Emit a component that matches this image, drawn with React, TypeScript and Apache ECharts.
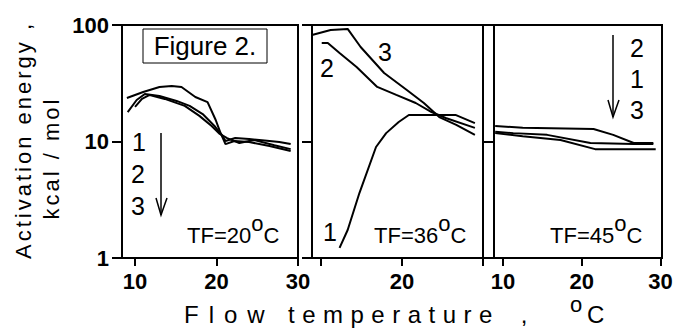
import React, { useEffect, useRef } from 'react';
import * as echarts from 'echarts';

const FONT = '"Liberation Sans", Arial, Helvetica, sans-serif';

// ---- axes ----
const xTickValues = [10, 20, 30];
const xLabelValues = [[10, 20, 30], [20], [10, 20, 30]];
const yTickValues = [1, 10, 100];
const panelXMin = [8.4, 8.9, 8.85];
const panelXMax = [30, 30, 30.2];

// ---- panel 1 : TF = 20 °C ----
const p1c1X = [9.0, 11.0, 13.0, 14.5, 15.7, 17.4, 18.9, 19.9, 20.5, 21.1, 22.3, 24.0, 25.9, 27.7, 29.1];
const p1c1Y = [23.6, 26.6, 29.4, 30.0, 29.4, 24.1, 21.8, 15.3, 11.8, 10.1, 10.7, 10.5, 10.2, 9.9, 9.5];
const p1c2X = [9.1, 10.2, 11.2, 13.0, 15.1, 16.7, 18.3, 19.75, 20.6, 21.1, 22.2, 24.0, 26.5, 29.1];
const p1c2Y = [17.9, 22.7, 25.6, 24.6, 22.3, 20.2, 17.2, 13.6, 11.4, 9.5, 10.1, 9.9, 9.15, 8.3];
const p1c3X = [10.0, 10.85, 11.8, 13.65, 16.1, 17.9, 19.4, 20.4, 21.3, 22.8, 24.6, 27.1, 29.1];
const p1c3Y = [19.8, 23.2, 25.1, 23.2, 20.2, 16.6, 13.6, 11.6, 10.7, 9.7, 10.3, 9.3, 8.6];

// ---- panel 2 : TF = 36 °C ----
const p2c1X = [12.3, 13.3, 14.75, 16.8, 18.05, 19.6, 20.85, 26.6, 29.0];
const p2c1Y = [1.22, 1.74, 3.61, 8.97, 11.8, 14.7, 16.9, 16.9, 14.4];
const p2c2X = [10.1, 10.85, 12.3, 14.4, 16.95, 19.3, 21.7, 23.65, 25.4, 29.0];
const p2c2Y = [70, 70, 57.5, 43.6, 29.4, 25.1, 21.4, 17.9, 15.9, 13.1];
const p2c3X = [8.9, 11.2, 13.3, 14.9, 17.8, 20.6, 22.7, 24.6, 26.7, 29.0];
const p2c3Y = [82, 90.6, 92.5, 64.7, 38.7, 27.7, 21.4, 16.2, 13.9, 11.4];

// ---- panel 3 : TF = 45 °C ----
const p3c1X = [9.0, 12.5, 21.5, 24.0, 26.6, 29.1];
const p3c1Y = [13.6, 13.1, 12.8, 11.4, 9.7, 9.7];
const p3c2X = [9.0, 11.3, 15.6, 21.1, 26.6, 29.1];
const p3c2Y = [12.1, 11.8, 11.4, 9.7, 9.5, 9.5];
const p3c3X = [9.0, 12.5, 17.3, 21.7, 27.4, 29.4];
const p3c3Y = [11.8, 11.1, 10.3, 8.6, 8.6, 8.6];

const panelTitles = ['TF=20', 'TF=36', 'TF=45'];

const panels = [
  [[p1c1X, p1c1Y], [p1c2X, p1c2Y], [p1c3X, p1c3Y]],
  [[p2c1X, p2c1Y], [p2c2X, p2c2Y], [p2c3X, p2c3Y]],
  [[p3c1X, p3c1Y], [p3c2X, p3c2Y], [p3c3X, p3c3Y]],
];

const zip = (xs: number[], ys: number[]) => xs.map((x, i) => [x, ys[i]]);

function label(text: string, x: number, y: number, size: number, extra: any = {}) {
  return {
    type: 'text',
    x,
    y,
    style: {
      text,
      fontSize: size,
      fontFamily: FONT,
      fill: '#000',
      align: 'center',
      verticalAlign: 'middle',
      textAlign: 'center',
      textVerticalAlign: 'middle',
      ...extra,
    },
  };
}

function tfLabel(title: string, x: number) {
  return {
    type: 'text',
    x,
    y: 246,
    style: {
      text: `{n|${title}}{s|o}{n|C}`,
      fontFamily: FONT,
      fontSize: 22,
      fill: '#000',
      align: 'left',
      verticalAlign: 'bottom',
      textAlign: 'left',
      textVerticalAlign: 'bottom',
      lineHeight: 34,
      rich: {
        n: { fontSize: 22, fontFamily: FONT, fill: '#000', verticalAlign: 'bottom' },
        s: { fontSize: 22, fontFamily: FONT, fill: '#000', verticalAlign: 'top' },
      },
    },
  };
}

function arrow(x: number, y1: number, y2: number) {
  return [
    { type: 'line', shape: { x1: x, y1, x2: x, y2 }, style: { stroke: '#000', lineWidth: 1.5 } },
    {
      type: 'polyline',
      shape: { points: [[x - 5, y2 - 17], [x, y2], [x + 6, y2 - 17]] },
      style: { stroke: '#000', lineWidth: 1.5, fill: null },
    },
  ];
}

const LETTER_SPACING: Record<string, string> = {
  'Activation energy ,': '3',
  'kcal / mol': '3',
  Flow: '10',
  temperature: '7.5',
};

export default function App() {
  const ref = useRef<HTMLDivElement>(null);

  useEffect(() => {
    if (!ref.current) return;
    const el = ref.current;
    const chart = echarts.init(el, undefined, { renderer: 'svg' });

    const grids = [
      { left: 122, top: 25, width: 176, height: 233 },
      { left: 312, top: 25, width: 171, height: 233 },
      { left: 494, top: 25, width: 168, height: 233 },
    ].map((g) => ({ ...g, show: true, borderColor: '#000', borderWidth: 2, containLabel: false }));

    const xAxis = [0, 1, 2].map((i) => ({
      type: 'value',
      gridIndex: i,
      min: panelXMin[i],
      max: panelXMax[i],
      axisLine: { show: true, onZero: false, lineStyle: { color: '#000', width: 2 } },
      axisTick: {
        show: true,
        inside: false,
        length: 8,
        customValues: xTickValues,
        lineStyle: { color: '#000', width: 2 },
      },
      axisLabel: {
        show: true,
        customValues: xLabelValues[i],
        color: '#000',
        fontWeight: 'bold',
        fontSize: 22,
        fontFamily: FONT,
        margin: 12,
      },
      splitLine: { show: false },
    }));

    const yAxis = [0, 1, 2].map((i) => ({
      type: 'log',
      logBase: 10,
      gridIndex: i,
      min: 1,
      max: 100,
      axisLine: { show: true, onZero: false, lineStyle: { color: '#000', width: 2 } },
      axisTick: {
        show: true,
        inside: false,
        length: 10,
        customValues: yTickValues,
        lineStyle: { color: '#000', width: 2 },
      },
      minorTick: { show: false },
      axisLabel: {
        show: i === 0,
        customValues: yTickValues,
        color: '#000',
        fontWeight: 'bold',
        fontSize: 22,
        fontFamily: FONT,
        margin: 13,
      },
      splitLine: { show: false },
    }));

    const series: any[] = [];
    panels.forEach((curves, i) => {
      curves.forEach(([xs, ys], j) => {
        series.push({
          type: 'line',
          name: `p${i + 1}c${j + 1}`,
          xAxisIndex: i,
          yAxisIndex: i,
          data: zip(xs, ys),
          symbol: 'none',
          showSymbol: false,
          lineStyle: { color: '#000', width: 2 },
          clip: true,
        });
      });
    });

    const graphic: any[] = [
      // Figure 2 box
      {
        type: 'rect',
        shape: { x: 143, y: 29, width: 124, height: 34 },
        style: { fill: '#fff', stroke: '#000', lineWidth: 1 },
      },
      label('Figure 2.', 205, 46, 26),
      // panel 1 legend
      label('1', 139, 142, 25),
      label('2', 138, 174, 25),
      label('3', 138, 206, 25),
      ...arrow(161, 133, 215),
      // panel 2 legend
      label('3', 385, 52, 25),
      label('2', 327, 68, 25),
      label('1', 330, 232, 25),
      // panel 3 legend
      label('2', 637, 48, 25),
      label('1', 637, 79, 25),
      label('3', 637, 110, 25),
      ...arrow(613, 35, 117),
      // TF labels
      tfLabel(panelTitles[0], 187),
      tfLabel(panelTitles[1], 374),
      tfLabel(panelTitles[2], 550),
      // y axis title
      label('Activation energy ,', 23, 140, 22, {}),
      label('kcal / mol', 51, 158, 22, {}),
      // x axis title
      label('Flow', 184, 314, 24, { align: 'left', textAlign: 'left' }),
      label('temperature', 288, 314, 24, { align: 'left', textAlign: 'left' }),
      label(',', 524, 314, 24),
      label('o', 576, 304, 22),
      label('C', 587, 314, 24, { align: 'left', textAlign: 'left' }),
    ];
    // rotate y titles
    graphic.forEach((g) => {
      if (g.type === 'text' && (g.style.text === 'Activation energy ,' || g.style.text === 'kcal / mol')) {
        g.rotation = Math.PI / 2;
      }
    });

    chart.setOption({
      animation: false,
      backgroundColor: '#fff',
      grid: grids,
      xAxis,
      yAxis,
      series,
      graphic,
    });

    const applySpacing = () => {
      el.querySelectorAll('text').forEach((t) => {
        const s = (t.textContent || '').trim();
        const sp = LETTER_SPACING[s];
        if (sp) t.setAttribute('letter-spacing', sp);
      });
    };
    applySpacing();
    chart.on('finished', applySpacing);
    const timer = setTimeout(applySpacing, 50);

    return () => {
      clearTimeout(timer);
      chart.dispose();
    };
  }, []);

  return (
    <div
      ref={ref}
      style={{ position: 'absolute', left: 0, top: 0, width: 677, height: 332, background: '#fff' }}
    />
  );
}
